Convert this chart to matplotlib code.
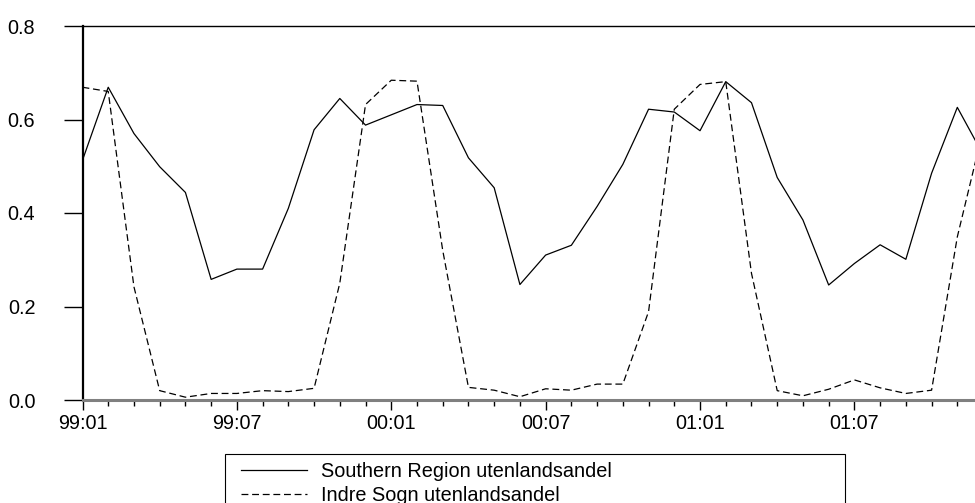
import matplotlib
matplotlib.use("Agg")
import matplotlib.pyplot as plt
from matplotlib.patches import Rectangle
from matplotlib.ticker import FixedLocator, MultipleLocator

plt.rcParams["font.family"] = ["Liberation Sans", "DejaVu Sans"]

# monthly series, 99:01 .. 01:12
southern = [0.513, 0.669, 0.570, 0.499, 0.444, 0.258, 0.280, 0.280, 0.410, 0.578,
            0.645, 0.588, 0.610, 0.632, 0.630, 0.518, 0.454, 0.247, 0.310, 0.331,
            0.414, 0.504, 0.622, 0.616, 0.576, 0.681, 0.636, 0.476, 0.385, 0.246,
            0.292, 0.332, 0.301, 0.485, 0.626, 0.525]
indre_sogn = [0.669, 0.660, 0.242, 0.020, 0.006, 0.014, 0.014, 0.020, 0.018, 0.025,
              0.250, 0.632, 0.684, 0.682, 0.320, 0.027, 0.021, 0.007, 0.024, 0.021,
              0.034, 0.034, 0.189, 0.622, 0.675, 0.681, 0.271, 0.020, 0.009, 0.023,
              0.043, 0.026, 0.014, 0.021, 0.349, 0.577]
tick_labels = ["99:01", "99:07", "00:01", "00:07", "01:01", "01:07"]
y_ticks = [0.0, 0.2, 0.4, 0.6, 0.8]
names = ["Southern Region utenlandsandel", "Indre Sogn utenlandsandel"]

W, H = 975, 503
FS = 14.3
fig = plt.figure(figsize=(W / 100, H / 100), dpi=100)
ax = fig.add_axes([82.5 / W, 1 - 400 / H, 1 - 82.5 / W, (400 - 26) / H])

x = list(range(len(southern)))
ax.plot(x, southern, color="black", lw=0.9, label=names[0])
ax.plot(x, indre_sogn, color="black", lw=0.9, dashes=(5.5, 3), label=names[1])

ax.set_xlim(0, (W - 82.5) / 25.73)
ax.set_ylim(0, 0.8)

ax.xaxis.set_major_locator(FixedLocator([6 * i for i in range(len(tick_labels))]))
ax.set_xticklabels(tick_labels)
ax.xaxis.set_minor_locator(MultipleLocator(1))
ax.set_yticks(y_ticks)
ax.set_yticklabels([f"{v:.1f}" for v in y_ticks])

ax.tick_params(axis="x", which="major", direction="out", length=7, width=1,
               labelsize=FS, pad=3)
ax.tick_params(axis="x", which="minor", direction="out", length=4.5, width=1)
ax.tick_params(axis="y", direction="out", length=14, width=1, labelsize=FS, pad=20)

ax.spines["right"].set_visible(False)
ax.spines["left"].set_linewidth(1.6)
ax.spines["top"].set_linewidth(1.0)
ax.spines["bottom"].set_linewidth(2.2)
ax.spines["bottom"].set_color("#808080")

# legend box runs off the bottom of the picture
fig.patches.append(Rectangle((225 / W, -0.1), (845 - 225) / W, 0.1 + 1 - 454 / H,
                             transform=fig.transFigure, fill=False,
                             edgecolor="black", lw=0.8))
leg = fig.legend(loc="upper left", bbox_to_anchor=(241 / W, 1 - 462 / H),
                 frameon=False, fontsize=FS, handlelength=3.3,
                 handletextpad=0.75, borderpad=0, labelspacing=0.25,
                 borderaxespad=0)

fig.savefig("out.png", dpi=100)
